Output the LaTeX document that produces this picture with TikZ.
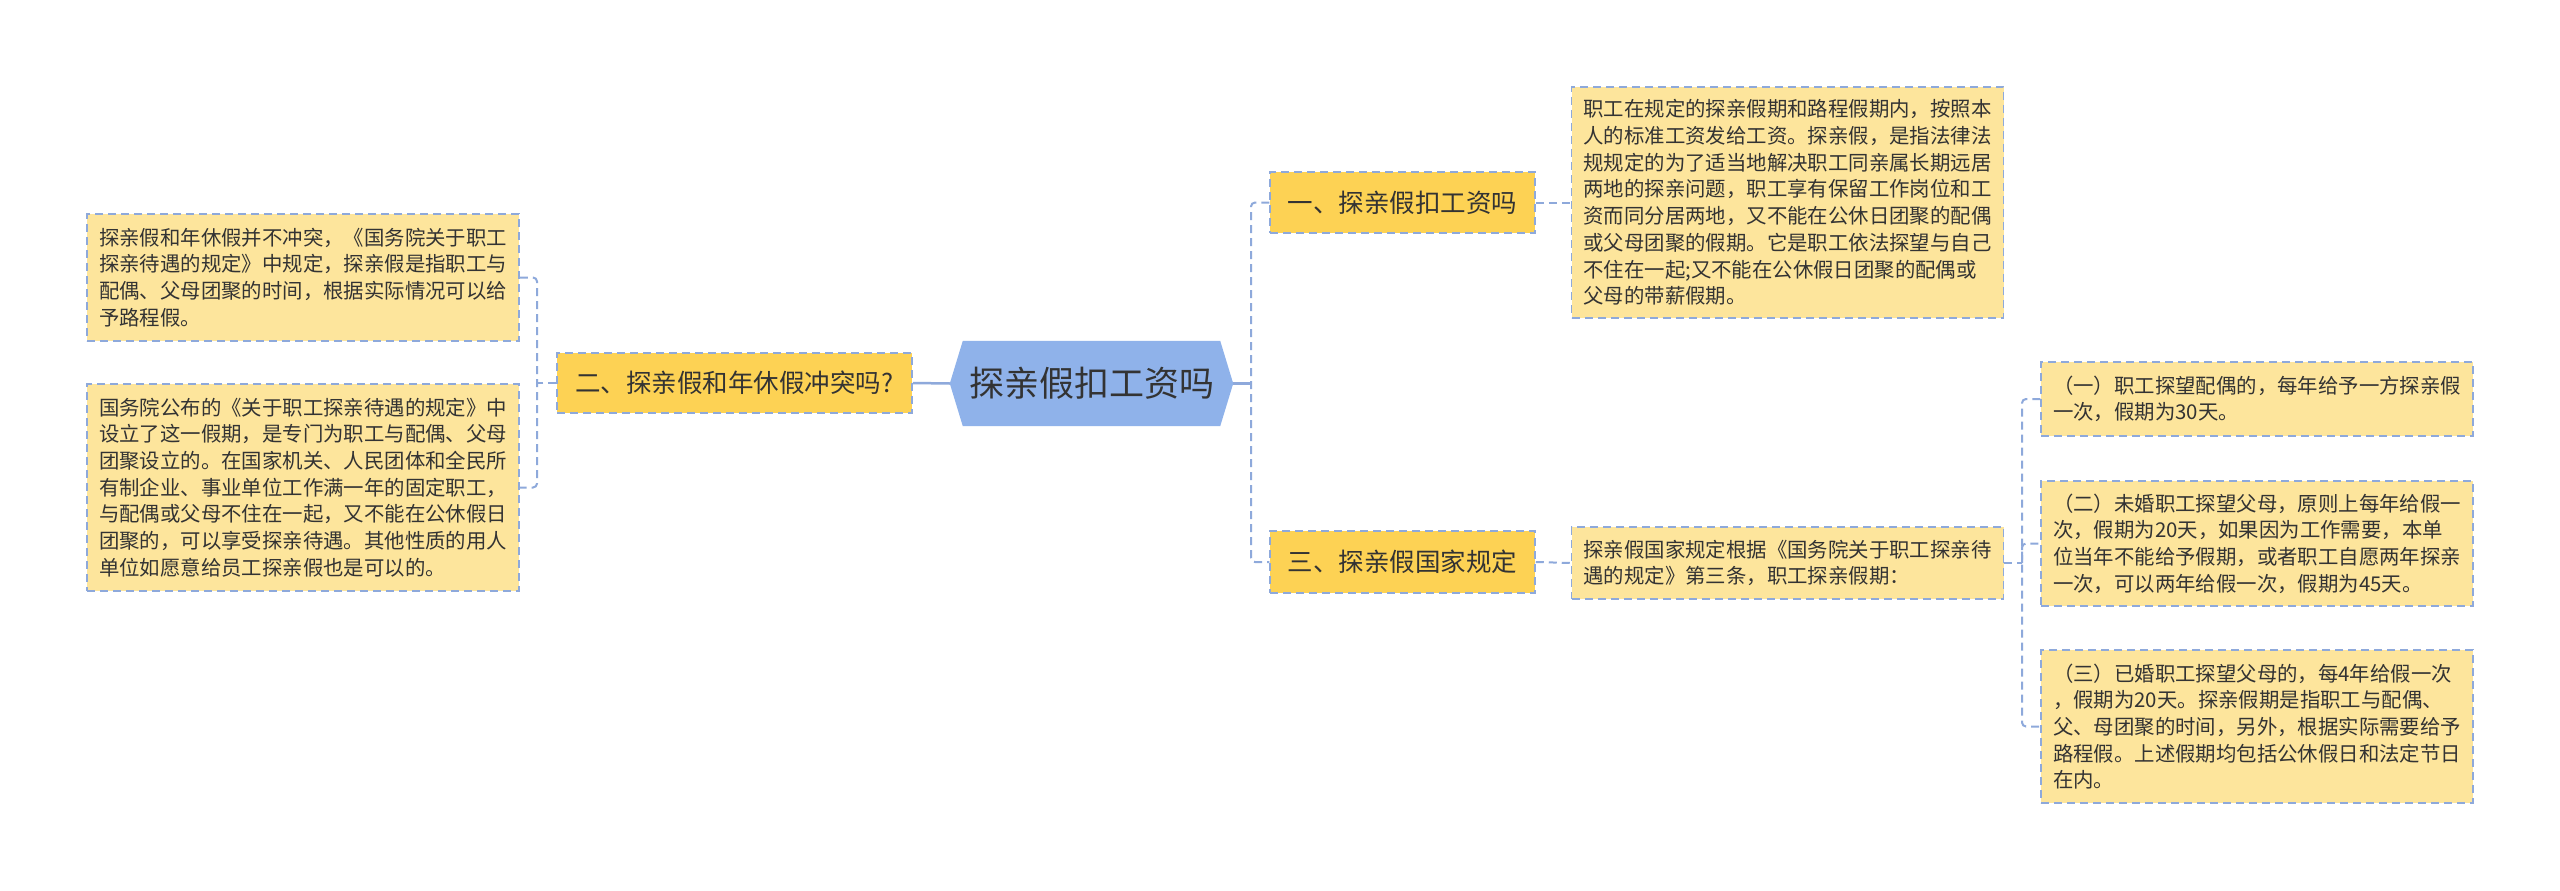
\documentclass[tikz,border=0pt]{standalone}
\usepackage{fontspec}
\newfontfamily\cjk{Noto Sans CJK SC}
\usetikzlibrary{backgrounds}
\definecolor{boxfill}{HTML}{FDE59C}
\definecolor{brfill}{HTML}{FDD254}
\definecolor{hexfill}{HTML}{8FB2EA}
\definecolor{lnblue}{HTML}{8EA9DB}
\definecolor{txt}{HTML}{333333}
\begin{document}
\begin{tikzpicture}[x=1pt,y=-1pt,
  leaf/.style={draw=lnblue, dash pattern=on 8pt off 5pt, line width=1.5pt, fill=boxfill, text=txt,
    font=\cjk\fontsize{20.4}{26.7}\selectfont, text width=408pt, align=left,
    inner xsep=12pt, inner ysep=0pt, minimum width=432pt},
  branch/.style={draw=lnblue, dash pattern=on 8pt off 5pt, line width=1.5pt, fill=brfill, text=txt,
    font=\cjk\fontsize{25.5}{30}\selectfont, inner sep=0pt},
  centre/.style={font=\cjk\fontsize{35}{40}\selectfont, text=txt, inner sep=0pt,
    minimum width=283pt, minimum height=85pt},
  conn/.style={draw=lnblue, line width=2pt, dash pattern=on 8pt off 5pt, rounded corners=4pt},
  mainconn/.style={draw=lnblue, line width=2.5pt}]
\begin{scope}[on background layer]
\fill[white] (0,0) rectangle (2560,891);
\end{scope}
\useasboundingbox (0,0) rectangle (2560,891);

% central
\node[centre] (C) at (1091.5,383.5) {探亲假扣工资吗};
\begin{scope}[on background layer]
\fill[hexfill] (C.west) -- ([xshift=13pt]C.north west) -- ([xshift=-13pt]C.north east)
  -- (C.east) -- ([xshift=-13pt]C.south east) -- ([xshift=13pt]C.south west) -- cycle;
\end{scope}

% branches
\node[branch, minimum width=355pt, minimum height=60pt] (B2) at (734.5,383) {二、探亲假和年休假冲突吗?};
\node[branch, minimum width=265pt, minimum height=61pt] (B1) at (1402.5,202.5) {一、探亲假扣工资吗};
\node[branch, minimum width=265pt, minimum height=62pt] (B3) at (1402.5,562) {三、探亲假国家规定};

% left leaves
\node[leaf, minimum height=127pt] (L1) at (303,277.5) {探亲假和年休假并不冲突，《国务院关于职工\\探亲待遇的规定》中规定，探亲假是指职工与\\配偶、父母团聚的时间，根据实际情况可以给\\予路程假。};
\node[leaf, minimum height=207pt] (L2) at (303,487.5) {国务院公布的《关于职工探亲待遇的规定》中\\设立了这一假期，是专门为职工与配偶、父母\\团聚设立的。在国家机关、人民团体和全民所\\有制企业、事业单位工作满一年的固定职工，\\与配偶或父母不住在一起，又不能在公休假日\\团聚的，可以享受探亲待遇。其他性质的用人\\单位如愿意给员工探亲假也是可以的。};

% right leaves
\node[leaf, minimum width=431pt, minimum height=231pt] (R1) at (1787.5,202.5) {职工在规定的探亲假期和路程假期内，按照本\\人的标准工资发给工资。探亲假，是指法律法\\规规定的为了适当地解决职工同亲属长期远居\\两地的探亲问题，职工享有保留工作岗位和工\\资而同分居两地，又不能在公休日团聚的配偶\\或父母团聚的假期。它是职工依法探望与自己\\不住在一起;又不能在公休假日团聚的配偶或\\父母的带薪假期。};
\node[leaf, minimum width=431pt, minimum height=72pt] (R3) at (1787.5,563) {探亲假国家规定根据《国务院关于职工探亲待\\遇的规定》第三条，职工探亲假期：};

\node[leaf, minimum height=74pt] (S1) at (2257,399) {（一）职工探望配偶的，每年给予一方探亲假\\一次，假期为30天。};
\node[leaf, minimum height=125pt] (S2) at (2257,543.5) {（二）未婚职工探望父母，原则上每年给假一\\次，假期为20天，如果因为工作需要，本单\\位当年不能给予假期，或者职工自愿两年探亲\\一次，可以两年给假一次，假期为45天。};
\node[leaf, minimum height=153pt] (S3) at (2257,726.5) {（三）已婚职工探望父母的，每4年给假一次\\，假期为20天。探亲假期是指职工与配偶、\\父、母团聚的时间，另外，根据实际需要给予\\路程假。上述假期均包括公休假日和法定节日\\在内。};

% junctions
\coordinate (jl) at (537,383);
\coordinate (jr) at (1251,383.5);
\coordinate (js) at (2022,563);

% connectors
\draw[mainconn] (C.west) -- (B2.east);
\draw[mainconn] (C.east) -- (jr);
\draw[conn] (B2.west) -- (jl);
\draw[conn] (L1.east) -| (jl) |- (L2.east);
\draw[conn] (B1.west) -| (jr) |- (B3.west);
\draw[conn] (B1.east) -- (R1.west);
\draw[conn] (B3.east) -- (R3.west);
\draw[conn] (R3.east) -- (js);
\draw[conn] (S1.west) -| (js) |- (S3.west);
\draw[conn] (js) |- (S2.west);
\end{tikzpicture}
\end{document}
